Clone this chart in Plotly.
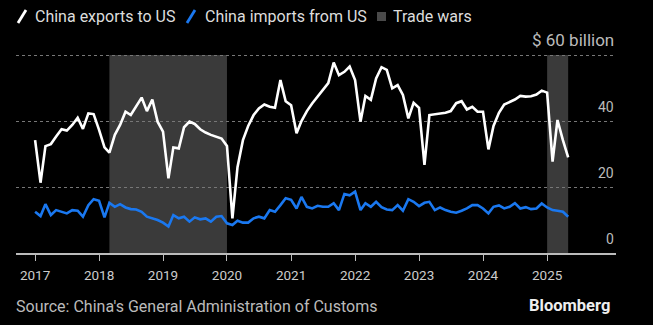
import pandas as pd
import plotly.graph_objects as go

# ---- data (US$ billion, monthly, Jan 2017 - May 2025) ----
exports_2017 = [34.2, 21.3, 32.4, 33.0, 35.3, 37.5, 37.1, 38.8, 41.0, 37.6, 42.3, 42.1]
exports_2018 = [37.3, 32.0, 30.4, 35.8, 38.8, 42.8, 41.8, 44.5, 47.1, 43.0, 46.5, 39.8]
exports_2019 = [36.8, 22.6, 32.0, 31.7, 38.1, 39.8, 39.1, 37.5, 36.5, 35.8, 35.3, 34.7]
exports_2020 = [32.4, 10.5, 26.0, 34.2, 38.5, 41.8, 43.8, 45.0, 44.3, 44.0, 52.4, 46.0]
exports_2021 = [44.8, 36.3, 40.0, 43.0, 45.3, 47.4, 49.5, 51.5, 57.7, 53.9, 54.9, 56.5]
exports_2022 = [52.4, 39.8, 47.6, 46.4, 52.9, 56.3, 55.5, 49.9, 50.9, 47.9, 40.8, 45.5]
exports_2023 = [44.0, 26.7, 41.8, 42.0, 42.2, 42.5, 43.0, 45.4, 46.0, 43.5, 44.3, 42.8]
exports_2024 = [42.8, 31.4, 38.5, 42.5, 45.0, 45.8, 46.5, 47.6, 47.4, 47.5, 48.0, 49.2]
exports_2025 = [48.6, 27.7, 40.3, 34.2, 29.0]

imports_2017 = [12.5, 11.2, 14.8, 11.5, 13.0, 12.5, 12.0, 13.0, 12.8, 11.0, 14.5, 16.3]
imports_2018 = [15.8, 10.8, 15.2, 14.0, 14.8, 13.8, 13.3, 13.2, 12.5, 11.0, 10.5, 10.0]
imports_2019 = [9.2, 8.0, 11.5, 10.5, 11.0, 9.5, 10.8, 10.2, 10.5, 9.5, 11.0, 11.2]
imports_2020 = [9.0, 8.5, 9.8, 9.2, 9.2, 10.5, 11.0, 10.5, 13.0, 12.5, 14.5, 16.6]
imports_2021 = [16.1, 13.5, 17.0, 14.0, 13.5, 14.3, 14.0, 14.0, 15.1, 13.0, 17.9, 17.5]
imports_2022 = [18.6, 13.0, 15.1, 14.0, 15.5, 13.9, 13.2, 13.0, 14.5, 12.8, 16.3, 15.5]
imports_2023 = [14.2, 15.2, 15.5, 13.0, 13.8, 13.0, 12.5, 12.2, 12.8, 13.5, 14.5, 14.5]
imports_2024 = [13.5, 12.0, 14.0, 14.4, 13.5, 14.0, 15.1, 13.5, 13.9, 13.3, 13.5, 15.0]
imports_2025 = [13.8, 13.0, 12.8, 12.5, 11.0]

trade_war_starts = ["2018-03-01", "2025-01-01"]
trade_war_ends = ["2020-01-01", "2025-05-01"]

y_tick_vals = [0, 20, 40, 60]
y_tick_text = ["0", "20", "40", "$ 60 billion"]
x_tick_years = ["2017", "2018", "2019", "2020", "2021", "2022", "2023", "2024", "2025"]

exports = (exports_2017 + exports_2018 + exports_2019 + exports_2020 + exports_2021
           + exports_2022 + exports_2023 + exports_2024 + exports_2025)
imports = (imports_2017 + imports_2018 + imports_2019 + imports_2020 + imports_2021
           + imports_2022 + imports_2023 + imports_2024 + imports_2025)
months = pd.date_range("2017-01-01", periods=len(exports), freq="MS")

FONT = "Roboto, Liberation Sans, sans-serif"
W, H = 653, 325
Y_MAX = 70
L, R, B = 16, 616, 253          # plot area edges in pixels
T = round(B - Y_MAX * 3.3)      # top so that 60 lands at ~55 px


def px(x):
    return (x - L) / (R - L)


def py(y):
    return (B - y) / (B - T)


fig = go.Figure()
fig.add_trace(go.Scatter(x=months, y=exports, mode="lines", name="China exports to US",
                         line=dict(color="#ffffff", width=2.6), showlegend=False))
fig.add_trace(go.Scatter(x=months, y=imports, mode="lines", name="China imports from US",
                         line=dict(color="#1a78f0", width=2.6), showlegend=False))

shapes = []
for s, e in zip(trade_war_starts, trade_war_ends):
    shapes.append(dict(type="rect", xref="x", yref="y", x0=s, x1=e, y0=0, y1=60,
                       fillcolor="#3a3a3a", line_width=0, layer="below"))

# legend icons
shapes.append(dict(type="line", xref="paper", yref="paper", x0=px(18), y0=py(23), x1=px(26), y1=py(10),
                   line=dict(color="#ffffff", width=2.8)))
shapes.append(dict(type="line", xref="paper", yref="paper", x0=px(187), y0=py(23), x1=px(195), y1=py(10),
                   line=dict(color="#1a78f0", width=2.8)))
shapes.append(dict(type="rect", xref="paper", yref="paper", x0=px(377), y0=py(21), x1=px(386), y1=py(12),
                   fillcolor="#4a4a4a", line_width=0))

LEG = dict(size=16, color="#dddddd", family=FONT)
annotations = [
    dict(text="China exports to US", x=px(33), y=py(16.5), xref="paper", yref="paper",
         xanchor="left", yanchor="middle", showarrow=False, font=LEG),
    dict(text="China imports from US", x=px(203), y=py(16.5), xref="paper", yref="paper",
         xanchor="left", yanchor="middle", showarrow=False, font=LEG),
    dict(text="Trade wars", x=px(391), y=py(16.5), xref="paper", yref="paper",
         xanchor="left", yanchor="middle", showarrow=False, font=LEG),
    dict(text="Source: China's General Administration of Customs", x=px(14), y=py(306),
         xref="paper", yref="paper", xanchor="left", yanchor="middle", showarrow=False,
         font=dict(size=16, color="#bbbbbb", family=FONT)),
    dict(text="<b>Bloomberg</b>", x=px(612), y=py(305), xref="paper", yref="paper",
         xanchor="right", yanchor="middle", showarrow=False,
         font=dict(size=16.5, color="#eeeeee", family=FONT)),
]

# y-axis value labels, placed on the axis scale just above each gridline
for v, t in zip(y_tick_vals, y_tick_text):
    annotations.append(dict(text=t, x=1, xref="paper", y=v, yref="y", xanchor="right",
                            yanchor="middle", yshift=14 if v < 60 else 15, showarrow=False,
                            font=dict(size=14 if v < 60 else 17, color="#bbbbbb", family=FONT)))

fig.update_layout(
    width=W, height=H,
    margin=dict(l=L, r=W - R, t=T, b=H - B),
    paper_bgcolor="#000000", plot_bgcolor="#000000",
    shapes=shapes, annotations=annotations,
    showlegend=False,
    xaxis=dict(type="date", range=["2016-09-14", "2026-01-29"],
               tickvals=[y + "-01-01" for y in x_tick_years], ticktext=x_tick_years,
               showgrid=False, zeroline=False,
               showline=True, linecolor="#bbbbbb", linewidth=1.5,
               ticks="outside", ticklen=6, tickcolor="#bbbbbb", tickwidth=1,
               ticklabelstandoff=3,
               tickfont=dict(size=13.5, color="#cccccc", family=FONT)),
    yaxis=dict(range=[0, Y_MAX], side="right", tickvals=y_tick_vals, showticklabels=False,
               showgrid=True, gridcolor="#777777",
               griddash="dot", gridwidth=1, zeroline=False, showline=False, ticks=""),
)

fig.write_html("out.html")
